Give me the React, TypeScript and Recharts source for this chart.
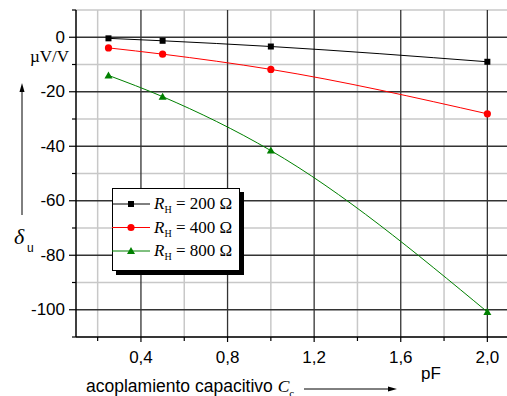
import React from 'react';
import { LineChart, Line, XAxis, YAxis, CartesianGrid } from 'recharts';

// coupling capacitance in pF
const capacitance = [0.25, 0.5, 1.0, 2.0];
// deviation in µV/V for each source resistance
const r200 = [-0.4, -1.3, -3.4, -9.0];
const r400 = [-3.9, -6.2, -11.8, -28.1];
const r800 = [-14.0, -21.8, -41.6, -100.8];

const seriesNames = ['200', '400', '800'];
const seriesColors = ['#000000', '#ff0000', '#008000'];

const xMajor = [0.4, 0.8, 1.2, 1.6, 2.0];
const xMinor = [0.2, 0.6, 1.0, 1.4, 1.8];
const yMajor = [-100, -80, -60, -40, -20, 0];
const yMinor = [-110, -90, -70, -50, -30, -10, 10];

const data = capacitance.map((c, i) => ({ c, r200: r200[i], r400: r400[i], r800: r800[i] }));

const sans = '"Liberation Sans", Arial, sans-serif';
const serif = '"Liberation Serif", "Times New Roman", serif';

const Square = (props: any) => {
  const { cx, cy, stroke } = props;
  return <rect x={cx - 3} y={cy - 3} width={6} height={6} fill={stroke} />;
};
const Circle = (props: any) => {
  const { cx, cy, stroke } = props;
  return <circle cx={cx} cy={cy} r={3.6} fill={stroke} />;
};
const Triangle = (props: any) => {
  const { cx, cy, stroke } = props;
  return <polygon points={`${cx},${cy - 4} ${cx - 4},${cy + 3} ${cx + 4},${cy + 3}`} fill={stroke} />;
};
const markers = [Square, Circle, Triangle];

const YTick = (props: any) => {
  const { x, y, payload } = props;
  const major = yMajor.includes(payload.value);
  return (
    <g>
      <line x1={x - (major ? 7 : 4)} x2={x} y1={y} y2={y} stroke="#000" strokeWidth={1.2} />
      {major && (
        <text x={x - 11} y={y} textAnchor="end" dominantBaseline="central" fontFamily={sans} fontSize={17} fill="#000">
          {payload.value}
        </text>
      )}
    </g>
  );
};

const XTick = (props: any) => {
  const { x, y, payload } = props;
  const major = xMajor.includes(payload.value);
  return (
    <g>
      <line x1={x} x2={x} y1={y} y2={y + (major ? 5 : 4)} stroke="#000" strokeWidth={1.2} />
      {major && (
        <text x={x} y={y + 20} textAnchor="middle" dominantBaseline="central" fontFamily={sans} fontSize={17} fill="#000">
          {payload.value.toFixed(1).replace('.', ',')}
        </text>
      )}
    </g>
  );
};

const LegendBox = () => (
  <g transform="translate(112,188)">
    <rect x={4} y={4} width={128} height={83} fill="#000" />
    <rect x={0.5} y={0.5} width={127} height={82} fill="#fff" stroke="#000" />
    {seriesNames.map((n, i) => {
      const cy = 16 + i * 23.5;
      const M = markers[i];
      return (
        <g key={n}>
          <line x1={0} x2={38} y1={cy} y2={cy} stroke={seriesColors[i]} strokeWidth={1} />
          <M cx={19} cy={cy} stroke={seriesColors[i]} />
          <text x={42} y={cy + 5} fontFamily={serif} fontSize={17} fill="#000">
            <tspan fontStyle="italic">R</tspan>
            <tspan fontSize={10} dy={4}>H</tspan>
            <tspan dy={-4}>{` = ${n} Ω`}</tspan>
          </text>
        </g>
      );
    })}
  </g>
);

export default function App() {
  return (
    <div style={{ position: 'absolute', left: 0, top: 0, width: 507, height: 396, overflow: 'hidden', background: '#fff' }}>
      <LineChart width={512} height={396} data={data} margin={{ top: 10, right: 3, bottom: 0, left: 0 }}>
        <CartesianGrid horizontalValues={yMinor} verticalValues={xMinor} stroke="#c8c8c8" strokeWidth={1.5} />
        <CartesianGrid horizontalValues={yMajor} verticalValues={xMajor} stroke="#333" strokeWidth={1.3} />
        <XAxis
          dataKey="c"
          type="number"
          domain={[0.1, 2.1]}
          ticks={[...xMinor, ...xMajor].sort((a, b) => a - b)}
          interval={0}
          height={59}
          tickSize={0}
          tickMargin={0}
          tick={<XTick />}
          axisLine={{ stroke: '#000', strokeWidth: 1.5 }}
        />
        <YAxis
          type="number"
          domain={[-110, 10]}
          ticks={[...yMinor, ...yMajor].sort((a, b) => a - b)}
          interval={0}
          width={76}
          tickSize={0}
          tickMargin={0}
          tick={<YTick />}
          axisLine={{ stroke: '#000', strokeWidth: 1.5 }}
        />
        {['r200', 'r400', 'r800'].map((k, i) => {
          const M = markers[i];
          return (
            <Line
              key={k}
              dataKey={k}
              type="monotone"
              stroke={seriesColors[i]}
              strokeWidth={1}
              dot={<M />}
              activeDot={false}
              isAnimationActive={false}
            />
          );
        })}
      </LineChart>
      <svg width={507} height={396} style={{ position: 'absolute', left: 0, top: 0, pointerEvents: 'none' }}>
        <LegendBox />
        <text x={30} y={62} fontFamily={serif} fontSize={17} fill="#000">µV/V</text>
        <line x1={22} x2={22} y1={215} y2={90} stroke="#000" strokeWidth={1} />
        <polygon points="22,83 19.5,92 24.5,92" fill="#000" />
        <text x={14} y={244} fontFamily={serif} fontSize={22} fontStyle="italic" fill="#000">δ</text>
        <text x={27} y={252} fontFamily={sans} fontSize={12} fill="#000">u</text>
        <text x={431} y={379} textAnchor="middle" fontFamily={sans} fontSize={17} fill="#000">pF</text>
        <text x={86} y={392} fontFamily={sans} fontSize={17.5} fill="#000">
          acoplamiento capacitivo <tspan fontFamily={serif} fontStyle="italic">C</tspan>
          <tspan fontFamily={serif} fontSize={11} dy={5}>c</tspan>
        </text>
        <line x1={304} x2={390} y1={389} y2={389} stroke="#000" strokeWidth={1} />
        <polygon points="397,389 388,386.5 388,391.5" fill="#000" />
      </svg>
    </div>
  );
}
